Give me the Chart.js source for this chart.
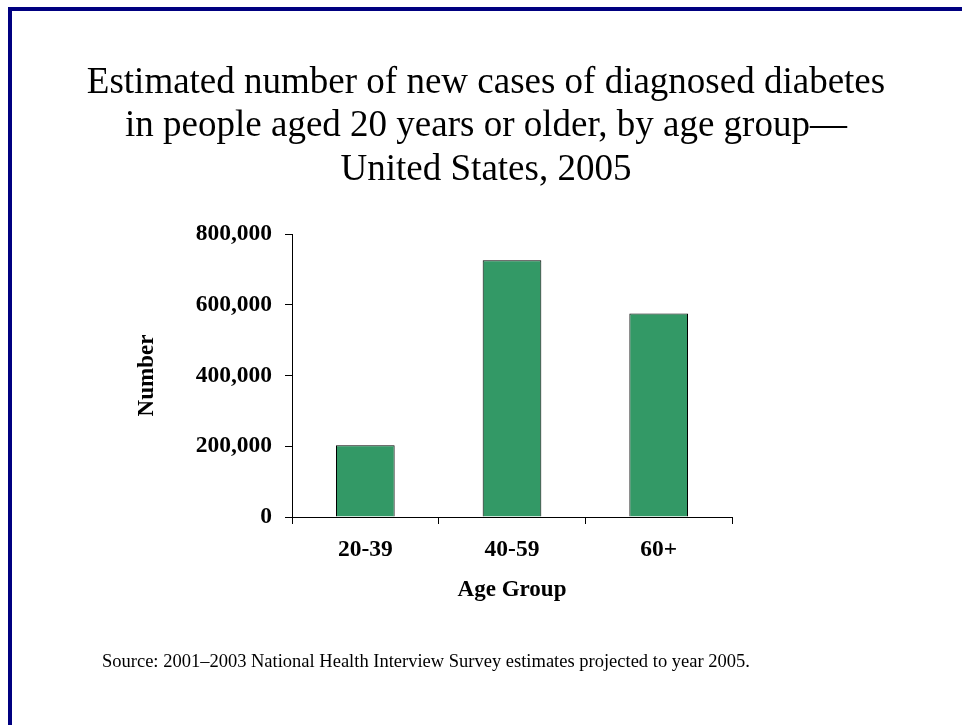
<!DOCTYPE html>
<html>
<head>
<meta charset="utf-8">
<script src="https://cdn.jsdelivr.net/npm/chart.js@4/dist/chart.umd.min.js"></script>
<style>
  html, body { margin: 0; padding: 0; background: #fff; }
  #wrap { position: relative; width: 962px; height: 725px; }
  #frameTop { position: absolute; left: 8px; top: 7px; width: 954px; height: 4px; background: #000080; }
  #frameLeft { position: absolute; left: 8px; top: 7px; width: 4px; height: 718px; background: #000080; }
  canvas { position: absolute; left: 0; top: 0; }
</style>
</head>
<body>
<div id="wrap">
  <canvas id="c" width="962" height="725"></canvas>
  <div id="frameTop"></div>
  <div id="frameLeft"></div>
</div>
<script>
const titleLines = [
  "Estimated number of new cases of diagnosed diabetes",
  "in people aged 20 years or older, by age group\u2014",
  "United States, 2005"
];
const sourceText = "Source: 2001\u20132003 National Health Interview Survey estimates projected to year 2005.";
const categories = ["20-39", "40-59", "60+"];
const newCases = [203000, 726000, 575000];
const yTicks = [0, 200000, 400000, 600000, 800000];
const xTitle = "Age Group";
const yTitle = "Number";

const serif = "'Liberation Serif', 'Times New Roman', Times, serif";

const textPlugin = {
  id: 'textPlugin',
  afterDraw(chart) {
    const ctx = chart.ctx;
    ctx.save();
    ctx.fillStyle = '#000';
    ctx.textAlign = 'center';
    ctx.textBaseline = 'alphabetic';
    ctx.font = "37px " + serif;
    const baselines = [93, 136, 180];
    titleLines.forEach((t, i) => ctx.fillText(t, 486, baselines[i]));
    ctx.textAlign = 'left';
    ctx.font = "18.5px " + serif;
    ctx.fillText(sourceText, 102, 667);
    ctx.restore();
  }
};

new Chart(document.getElementById('c'), {
  type: 'bar',
  data: {
    labels: categories,
    datasets: [{
      data: newCases,
      backgroundColor: '#339966',
      borderColor: '#000',
      borderWidth: 1,
      barPercentage: 0.4,
      categoryPercentage: 1.0
    }]
  },
  options: {
    responsive: false,
    animation: false,
    devicePixelRatio: 1,
    layout: { padding: { left: 100, right: 230, top: 234, bottom: 108 } },
    plugins: {
      legend: { display: false },
      title: { display: false },
      tooltip: { enabled: false }
    },
    scales: {
      x: {
        afterFit(scale) { scale.height = 100; },
        grid: { offset: true, drawOnChartArea: false, drawTicks: true, tickLength: 7, color: '#000', lineWidth: 1 },
        border: { display: true, color: '#000', width: 1 },
        ticks: { color: '#000', padding: 12, font: { family: serif, size: 23.5, weight: 'bold' } },
        title: { display: true, text: xTitle, color: '#000', padding: { top: 0, bottom: 13 }, font: { family: serif, size: 23, weight: 'bold' } }
      },
      y: {
        min: 0,
        max: 800000,
        afterFit(scale) { scale.width = 192; },
        afterBuildTicks(scale) { scale.ticks = yTicks.map(v => ({ value: v })); },
        grid: { drawOnChartArea: false, drawTicks: true, tickLength: 7, color: '#000', lineWidth: 1 },
        border: { display: true, color: '#000', width: 1 },
        ticks: {
          color: '#000', padding: 13,
          font: { family: serif, size: 23.5, weight: 'bold' },
          callback: (v) => v.toLocaleString('en-US')
        },
        title: { display: true, text: yTitle, color: '#000', padding: { top: 33, bottom: 0 }, font: { family: serif, size: 23, weight: 'bold' } }
      }
    }
  },
  plugins: [textPlugin]
});
</script>
</body>
</html>
